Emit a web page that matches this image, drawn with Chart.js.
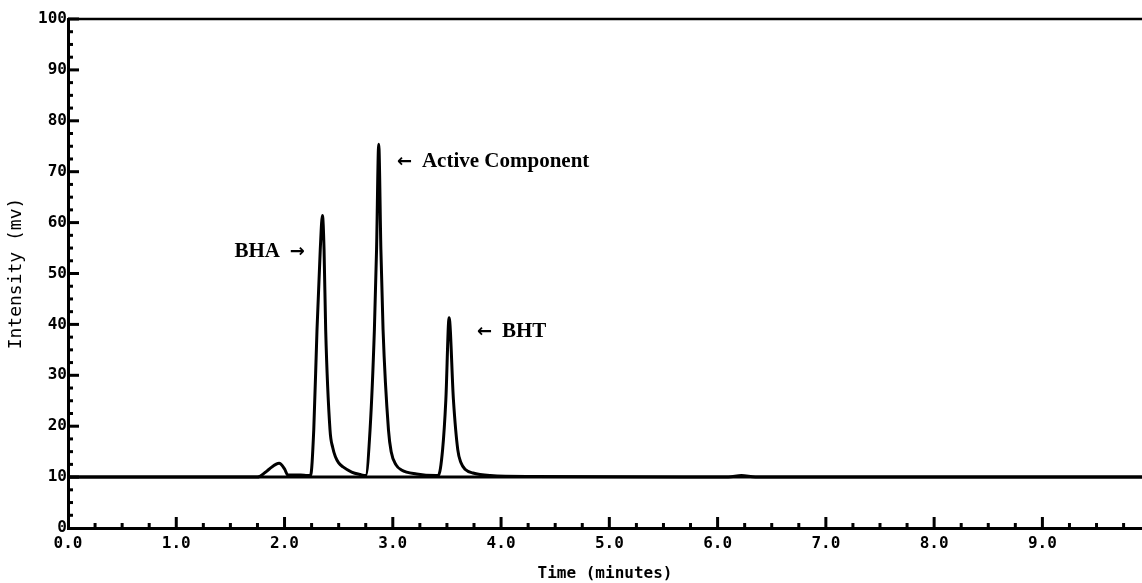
<!DOCTYPE html>
<html>
<head>
<meta charset="utf-8">
<script src="https://cdn.jsdelivr.net/npm/chart.js@4.4.1/dist/chart.umd.min.js"></script>
<style>
  html, body { margin: 0; padding: 0; background: #fff; }
  #wrap { width: 1142px; height: 583px; }
</style>
</head>
<body>
<div id="wrap"><canvas id="myChart" width="1142" height="583"></canvas></div>
<script>
// chromatogram trace (minutes, mV)
const times = [0, 1.0, 1.75, 1.82, 1.86, 1.95, 2.0, 2.03, 2.08, 2.15, 2.21,
  2.24, 2.27, 2.30, 2.33, 2.35, 2.365, 2.38, 2.42, 2.445, 2.47, 2.50, 2.54, 2.62, 2.70,
  2.75, 2.79, 2.83, 2.85, 2.87, 2.89, 2.91, 2.96, 2.985, 3.03, 3.08, 3.22, 3.40,
  3.42, 3.46, 3.49, 3.52, 3.56, 3.60, 3.63, 3.67, 3.74, 3.90, 4.30,
  6.10, 6.22, 6.35, 9.92];
const intensity = [10, 10, 10, 10.9, 11.6, 12.7, 11.6, 10.4, 10.4, 10.4, 10.3,
  10.3, 19.3, 39, 54.7, 61.4, 54.7, 39, 19.3, 15.8, 14.0, 12.8, 12.0, 11.0, 10.5,
  10.3, 19.3, 39, 54.7, 75.4, 54.7, 39, 19.3, 15.0, 12.4, 11.4, 10.6, 10.3,
  10.3, 15.4, 25.2, 41.3, 25.2, 15.4, 12.8, 11.5, 10.8, 10.3, 10.1,
  10, 10.3, 10, 10];

// baseline drawn under the peaks
const baseTimes = [0, 9.92];
const baseLevel = [10, 10];

const xTicks = [0, 1, 2, 3, 4, 5, 6, 7, 8, 9];
const yTicks = [0, 10, 20, 30, 40, 50, 60, 70, 80, 90, 100];

// peak labels: name, arrow side, where the arrow tip points
const peakNames = ['BHA', 'Active Component', 'BHT'];
const arrowSide = ['right', 'left', 'left'];
const peakLabelTimes = [2.188, 3.038, 3.777];
const peakLabelLevels = [54.3, 72.0, 38.6];

const tickFont = { family: 'DejaVu Sans Mono', size: 16, weight: 'bold' };

// inward tick marks, top frame line and peak labels
const framePlugin = {
  id: 'frame',
  afterDraw(chart) {
    const ctx = chart.ctx;
    const area = chart.chartArea;
    const xs = chart.scales.x;
    const ys = chart.scales.y;
    ctx.save();
    ctx.strokeStyle = '#000';
    ctx.lineWidth = 2.5;
    ctx.beginPath();
    ctx.moveTo(area.left, area.top);
    ctx.lineTo(area.right, area.top);
    ctx.stroke();

    ctx.lineWidth = 3;
    for (let i = 1; i * 0.25 <= xs.max; i++) {
      const px = xs.getPixelForValue(i * 0.25);
      const len = i % 4 === 0 ? 11 : 5;
      ctx.beginPath();
      ctx.moveTo(px, area.bottom);
      ctx.lineTo(px, area.bottom - len);
      ctx.stroke();
    }
    for (let i = 1; i * 2.5 <= ys.max; i++) {
      const py = ys.getPixelForValue(i * 2.5);
      const len = i % 4 === 0 ? 11 : 5;
      ctx.beginPath();
      ctx.moveTo(area.left, py);
      ctx.lineTo(area.left + len, py);
      ctx.stroke();
    }

    ctx.fillStyle = '#000';
    ctx.textBaseline = 'middle';
    peakNames.forEach((name, i) => {
      const tipX = xs.getPixelForValue(peakLabelTimes[i]);
      const y = ys.getPixelForValue(peakLabelLevels[i]);
      ctx.font = 'bold 18px "DejaVu Sans"';
      if (arrowSide[i] === 'right') {
        ctx.textAlign = 'right';
        ctx.fillText('\u2192', tipX, y + 1);
        ctx.font = 'bold 21px "Liberation Serif"';
        ctx.fillText(name, tipX - 25, y);
      } else {
        ctx.textAlign = 'left';
        ctx.fillText('\u2190', tipX, y + 1);
        ctx.font = 'bold 21px "Liberation Serif"';
        ctx.fillText(name, tipX + 25, y);
      }
    });
    ctx.restore();
  }
};

const ctx = document.getElementById('myChart').getContext('2d');
const chart = new Chart(ctx, {
  type: 'line',
  data: {
    datasets: [
      {
        data: baseTimes.map((t, i) => ({ x: t, y: baseLevel[i] })),
        borderColor: '#000',
        borderWidth: 3,
        pointRadius: 0,
      },
      {
        data: times.map((t, i) => ({ x: t, y: intensity[i] })),
        borderColor: '#000',
        borderWidth: 3,
        pointRadius: 0,
        cubicInterpolationMode: 'monotone',
      },
    ],
  },
  options: {
    responsive: false,
    animation: false,
    devicePixelRatio: 1,
    layout: { padding: { top: 19, right: 0, left: 0, bottom: 0 } },
    plugins: { legend: { display: false }, tooltip: { enabled: false } },
    scales: {
      x: {
        type: 'linear',
        min: 0,
        max: 9.92,
        afterBuildTicks: s => { s.ticks = xTicks.map(v => ({ value: v })); },
        afterFit: s => { s.height = 55; },
        ticks: {
          callback: v => v.toFixed(1),
          font: tickFont,
          color: '#000',
          padding: 6,
          maxRotation: 0,
          autoSkip: false,
        },
        grid: { drawOnChartArea: false, drawTicks: false },
        border: { display: true, color: '#000', width: 3 },
        title: {
          display: true,
          text: 'Time (minutes)',
          font: tickFont,
          color: '#000',
          padding: { top: 0, bottom: 0 },
        },
      },
      y: {
        min: 0,
        max: 100,
        afterBuildTicks: s => { s.ticks = yTicks.map(v => ({ value: v })); },
        afterFit: s => { s.width = 68; },
        ticks: {
          callback: v => String(v),
          font: tickFont,
          color: '#000',
          padding: 1,
          autoSkip: false,
        },
        grid: { drawOnChartArea: false, drawTicks: false },
        border: { display: true, color: '#000', width: 3 },
        title: {
          display: true,
          text: 'Intensity (mv)',
          font: { family: 'DejaVu Sans Mono', size: 18 },
          color: '#000',
          padding: { top: 6, bottom: 0 },
        },
      },
    },
  },
  plugins: [framePlugin],
});
</script>
</body>
</html>
